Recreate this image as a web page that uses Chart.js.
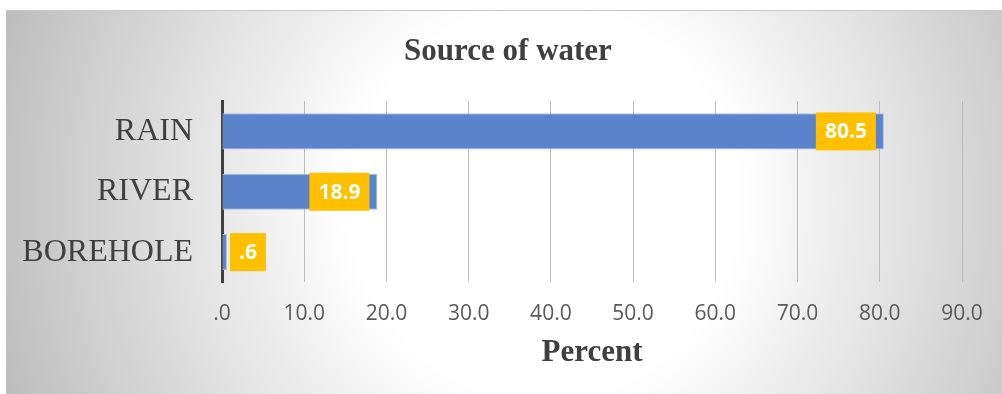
<!DOCTYPE html>
<html>
<head>
<meta charset="utf-8">
<script src="https://cdn.jsdelivr.net/npm/chart.js@4"></script>
<style>
  html, body { margin: 0; padding: 0; background: #fff; }
  #wrap {
    position: absolute; left: 6px; top: 10px; width: 996px; height: 384px;
    border-top: 1px solid #c8c8c8; box-sizing: border-box;
    background: radial-gradient(circle farthest-corner at 54% 50%, #ffffff 0%, #ffffff 34%, #bdbdbd 100%);
  }
</style>
</head>
<body>
<div id="wrap"><canvas id="chart"></canvas></div>
<script>
// Source of water (percent)
const categories = ['RAIN', 'RIVER', 'BOREHOLE'];
const percentValues = [80.5, 18.9, 0.6];
const valueLabels = ['80.5', '18.9', '.6'];
const xTickLabels = ['.0', '10.0', '20.0', '30.0', '40.0', '50.0', '60.0', '70.0', '80.0', '90.0'];

// orange label boxes drawn at the end of each bar
const labelBoxes = {
  id: 'labelBoxes',
  afterDatasetsDraw(chart) {
    const ctx = chart.ctx;
    const meta = chart.getDatasetMeta(0);
    ctx.save();
    ctx.font = 'bold 21px "Open Sans"';
    ctx.textAlign = 'center';
    ctx.textBaseline = 'middle';
    meta.data.forEach((bar, i) => {
      const text = valueLabels[i];
      const w = ctx.measureText(text).width + 18;
      const h = 38;
      let left;
      if (bar.x - bar.base > w + 12) {
        left = bar.x - 8 - w;
      } else {
        left = bar.x + 3;
      }
      ctx.fillStyle = '#FFC000';
      ctx.fillRect(left, bar.y - h / 2, w, h);
      ctx.fillStyle = '#ffffff';
      ctx.fillText(text, left + w / 2, bar.y + 1);
    });
    ctx.restore();
  }
};

new Chart(document.getElementById('chart'), {
  type: 'bar',
  data: {
    labels: categories,
    datasets: [{
      data: percentValues,
      backgroundColor: '#5A83CC',
      borderColor: '#A7BDE4',
      borderWidth: 1,
      borderSkipped: false,
      barPercentage: 0.6,
      categoryPercentage: 1
    }]
  },
  options: {
    indexAxis: 'y',
    responsive: true,
    maintainAspectRatio: false,
    animation: false,
    layout: { padding: { top: 12, left: 8, right: 0, bottom: 33 } },
    plugins: {
      legend: { display: false },
      tooltip: { enabled: false },
      title: {
        display: true,
        text: 'Source of water',
        color: '#404040',
        font: { family: '"Liberation Serif"', size: 31, weight: 'bold', lineHeight: 1.2 },
        padding: { top: 10, bottom: 31 }
      }
    },
    scales: {
      x: {
        min: 0,
        max: 90,
        ticks: {
          stepSize: 10,
          padding: 19,
          color: '#595959',
          font: { family: '"Open Sans"', size: 21 },
          callback: (v, i) => xTickLabels[i]
        },
        grid: {
          drawTicks: false,
          color: (c) => c.index === 0 ? 'rgba(0,0,0,0)' : '#bcbcbc',
          lineWidth: 1
        },
        border: { display: false },
        title: {
          display: true,
          text: 'Percent',
          color: '#404040',
          font: { family: '"Liberation Serif"', size: 31, weight: 'bold', lineHeight: 0.5 },
          padding: { top: 0, bottom: 0 }
        },
        afterFit: (scale) => { scale.paddingRight = 40; }
      },
      y: {
        ticks: {
          padding: 29,
          color: '#404040',
          font: { family: '"Liberation Serif"', size: 32 }
        },
        grid: { display: false, drawTicks: false },
        border: { display: true, color: '#404040', width: 3 },
        afterFit: (scale) => { scale.width = 208; }
      }
    }
  },
  plugins: [labelBoxes]
});
</script>
</body>
</html>
